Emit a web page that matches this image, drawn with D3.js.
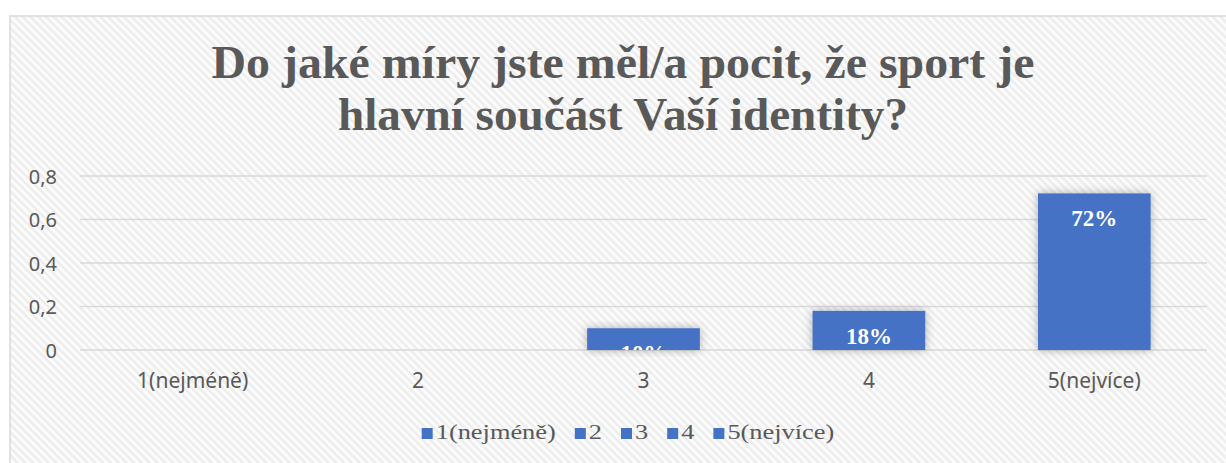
<!DOCTYPE html>
<html lang="cs">
<head>
<meta charset="UTF-8">
<title>Sport a identita</title>
<script src="https://d3js.org/d3.v7.min.js"></script>
<style>
  body { margin: 0; background: #fff; }
  svg { display: block; }
  .serif { font-family: "Liberation Serif", serif; }
  .sans { font-family: "Noto Sans", sans-serif; }
</style>
</head>
<body>
<svg id="chart"></svg>
<script>
// data
const categories = ["1(nejméně)", "2", "3", "4", "5(nejvíce)"];
const values = [0, 0, 0.10, 0.18, 0.72];
const yTicks = [0, 0.2, 0.4, 0.6, 0.8];
const titleLines = ["Do jaké míry jste měl/a pocit, že sport je", "hlavní součást Vaší identity?"];

const W = 1226, H = 463;
const svg = d3.select("#chart").attr("width", W).attr("height", H);
const defs = svg.append("defs");

// diagonal stripe background
const pat = defs.append("pattern")
  .attr("id", "stripes").attr("patternUnits", "userSpaceOnUse")
  .attr("width", 5.5).attr("height", 5.5)
  .attr("patternTransform", "rotate(45)");
pat.append("rect").attr("width", 5.5).attr("height", 5.5).attr("fill", "#fcfcfc");
pat.append("rect").attr("width", 5.5).attr("height", 2.75).attr("fill", "#eeeeee");

defs.append("filter").attr("id", "glow")
  .attr("x", "-30%").attr("y", "-30%").attr("width", "160%").attr("height", "160%")
  .append("feDropShadow")
  .attr("dx", 0).attr("dy", 0).attr("stdDeviation", 5)
  .attr("flood-color", "#000").attr("flood-opacity", 0.3);

defs.append("clipPath").attr("id", "plotClip")
  .append("rect").attr("x", 0).attr("y", 0).attr("width", W).attr("height", 350);

// frame
svg.append("rect").attr("x", 10).attr("y", 16).attr("width", W).attr("height", H)
  .attr("fill", "url(#stripes)").attr("stroke", "#d9d9d9").attr("stroke-width", 1.5);

// title (stretched a little to the width seen in the picture)
const titleWidths = [823, 570];
titleLines.forEach((line, i) => {
  const g = svg.append("g").attr("transform", `translate(623,${78 + i * 52})`);
  const t = g.append("text")
    .attr("class", "serif")
    .attr("text-anchor", "middle")
    .style("font-weight", "bold").style("font-size", "47px")
    .attr("fill", "#595959")
    .text(line);
  const k = titleWidths[i] / t.node().getComputedTextLength();
  t.attr("transform", `scale(${k},1)`);
});

// scales
const x = d3.scaleBand().domain(categories).range([80, 1207])
  .paddingInner(0.5).paddingOuter(0.25);
const y = d3.scaleLinear().domain([0, 0.8]).range([350, 176]);

// grid
svg.append("g")
  .selectAll("line").data(yTicks).enter().append("line")
  .attr("x1", 80).attr("x2", 1207)
  .attr("y1", d => y(d)).attr("y2", d => y(d))
  .attr("stroke", "#d9d9d9").attr("stroke-width", 1.5);

// y labels
const fmt = d => d === 0 ? "0" : String(d).replace(".", ",");
svg.append("g")
  .selectAll("text").data(yTicks).enter().append("text")
  .attr("class", "sans")
  .attr("x", 57).attr("y", d => y(d) + 7.5)
  .attr("text-anchor", "end")
  .style("font-size", "20px")
  .attr("fill", "#595959")
  .text(fmt);

// x labels
svg.append("g")
  .selectAll("text").data(categories).enter().append("text")
  .attr("class", "sans")
  .attr("x", d => x(d) + x.bandwidth() / 2).attr("y", 388)
  .attr("text-anchor", "middle")
  .style("font-size", "21px")
  .attr("fill", "#595959")
  .text(d => d);

// bars
const data = categories.map((c, i) => ({ c, v: values[i] }));
svg.append("g")
  .selectAll("rect").data(data.filter(d => d.v > 0)).enter().append("rect")
  .attr("x", d => x(d.c)).attr("width", x.bandwidth())
  .attr("y", d => y(d.v)).attr("height", d => y(0) - y(d.v))
  .attr("fill", "#4472c4").attr("filter", "url(#glow)");

// data labels (clipped to plot)
svg.append("g").attr("clip-path", "url(#plotClip)")
  .selectAll("text").data(data.filter(d => d.v > 0)).enter().append("text")
  .attr("class", "serif")
  .attr("x", d => x(d.c) + x.bandwidth() / 2).attr("y", d => y(d.v) + 33)
  .attr("text-anchor", "middle")
  .style("font-weight", "bold").style("font-size", "23px")
  .attr("fill", "#fff")
  .text(d => Math.round(d.v * 100) + "%");

// legend
const legK = 1.2;
const leg = svg.append("g");
let lx = 0;
categories.forEach(c => {
  const it = leg.append("g").attr("transform", `translate(${lx},0)`);
  it.append("rect").attr("x", 0).attr("y", 428).attr("width", 11).attr("height", 11)
    .attr("fill", "#4472c4");
  const t = it.append("text").attr("class", "serif")
    .attr("transform", `translate(14,439) scale(${legK},1)`)
    .style("font-size", "22px")
    .attr("fill", "#595959").text(c);
  lx += 14 + t.node().getComputedTextLength() * legK + 19;
});
const legW = lx - 19;
leg.attr("transform", `translate(${628 - legW / 2},0)`);
</script>
</body>
</html>
